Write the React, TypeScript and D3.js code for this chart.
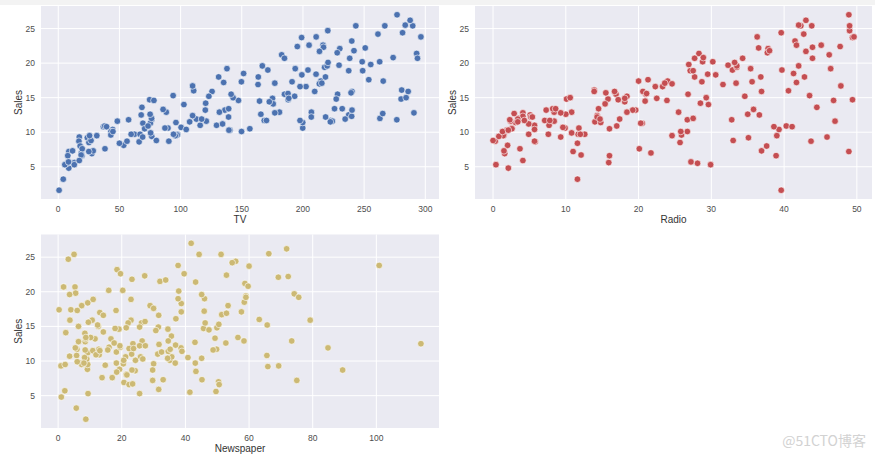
import React, { useEffect, useRef } from "react";
import * as d3 from "d3";

// Advertising data (TV, Radio, Newspaper spend vs Sales), 200 markets
const tv = [
  230.1, 44.5, 17.2, 151.5, 180.8, 8.7, 57.5, 120.2, 8.6, 199.8, 66.1, 214.7, 23.8, 97.5, 204.1, 195.4, 67.8, 281.4, 69.2, 147.3,
  218.4, 237.4, 13.2, 228.3, 62.3, 262.9, 142.9, 240.1, 248.8, 70.6, 292.9, 112.9, 97.2, 265.6, 95.7, 290.7, 266.9, 74.7, 43.1, 228,
  202.5, 177, 293.6, 206.9, 25.1, 175.1, 89.7, 239.9, 227.2, 66.9, 199.8, 100.4, 216.4, 182.6, 262.7, 198.9, 7.3, 136.2, 210.8, 210.7,
  53.5, 261.3, 239.3, 102.7, 131.1, 69, 31.5, 139.3, 237.4, 216.8, 199.1, 109.8, 26.8, 129.4, 213.4, 16.9, 27.5, 120.5, 5.4, 116,
  76.4, 239.8, 75.3, 68.4, 213.5, 193.2, 76.3, 110.7, 88.3, 109.8, 134.3, 28.6, 217.7, 250.9, 107.4, 163.3, 197.6, 184.9, 289.7, 135.2,
  222.4, 296.4, 280.2, 187.9, 238.2, 137.9, 25, 90.4, 13.1, 255.4, 225.8, 241.7, 175.7, 209.6, 78.2, 75.1, 139.2, 76.4, 125.7, 19.4,
  141.3, 18.8, 224, 123.1, 229.5, 87.2, 7.8, 80.2, 220.3, 59.6, 0.7, 265.2, 8.4, 219.8, 36.9, 48.3, 25.6, 273.7, 43, 184.9,
  73.4, 193.7, 220.5, 104.6, 96.2, 140.3, 240.1, 243.2, 38, 44.7, 280.7, 121, 197.6, 171.3, 187.8, 4.1, 93.9, 149.8, 11.7, 131.7,
  172.5, 85.7, 188.4, 163.5, 117.2, 234.5, 17.9, 206.8, 215.4, 284.3, 50, 164.5, 19.6, 168.4, 222.4, 276.9, 248.4, 170.2, 276.7, 165.6,
  156.6, 218.5, 56.2, 287.6, 253.8, 205, 139.5, 191.1, 286, 18.7, 39.5, 75.5, 17.2, 166.8, 149.7, 38.2, 94.2, 177, 283.6, 232.1,
];
const radio = [
  37.8, 39.3, 45.9, 41.3, 10.8, 48.9, 32.8, 19.6, 2.1, 2.6, 5.8, 24, 35.1, 7.6, 32.9, 47.7, 36.6, 39.6, 20.5, 23.9,
  27.7, 5.1, 15.9, 16.9, 12.6, 3.5, 29.3, 16.7, 27.1, 16, 28.3, 17.4, 1.5, 20, 1.4, 4.1, 43.8, 49.4, 26.7, 37.7,
  22.3, 33.4, 27.7, 8.4, 25.7, 22.5, 9.9, 41.5, 15.8, 11.7, 3.1, 9.6, 41.7, 46.2, 28.8, 49.4, 28.1, 19.2, 49.6, 29.5,
  2, 42.7, 15.5, 29.6, 42.8, 9.3, 24.6, 14.5, 27.5, 43.9, 30.6, 14.3, 33, 5.7, 24.6, 43.7, 1.6, 28.5, 29.9, 7.7,
  26.7, 4.1, 20.3, 44.5, 43, 18.4, 27.5, 40.6, 25.5, 47.8, 4.9, 1.5, 33.5, 36.5, 14, 31.6, 3.5, 21, 42.3, 41.7,
  4.3, 36.3, 10.1, 17.2, 34.3, 46.4, 11, 0.3, 0.4, 26.9, 8.2, 38, 15.4, 20.6, 46.8, 35, 14.3, 0.8, 36.9, 16,
  26.8, 21.7, 2.4, 34.6, 32.3, 11.8, 38.9, 0, 49, 12, 39.6, 2.9, 27.2, 33.5, 38.6, 47, 39, 28.9, 25.9, 43.9,
  17, 35.4, 33.2, 5.7, 14.8, 1.9, 7.3, 49, 40.3, 25.8, 13.9, 8.4, 23.3, 39.7, 21.1, 11.6, 43.5, 1.3, 36.9, 18.4,
  18.1, 35.8, 18.1, 36.8, 14.7, 3.4, 37.6, 5.2, 23.6, 10.6, 11.6, 20.9, 20.1, 7.1, 3.4, 48.9, 30.2, 7.8, 2.3, 10,
  2.6, 5.4, 5.7, 43, 21.3, 45.1, 2.1, 28.7, 13.9, 12.1, 41.1, 10.8, 4.1, 42, 35.6, 3.7, 4.9, 9.3, 42, 8.6,
];
const newspaper = [
  69.2, 45.1, 69.3, 58.5, 58.4, 75, 23.5, 11.6, 1, 21.2, 24.2, 4, 65.9, 7.2, 46, 52.9, 114, 55.8, 18.3, 19.1,
  53.4, 23.5, 49.6, 26.2, 18.3, 19.5, 12.6, 22.9, 22.9, 40.8, 43.2, 38.6, 30, 0.3, 7.4, 8.5, 5, 45.7, 35.1, 32,
  31.6, 38.7, 1.8, 26.4, 43.3, 31.5, 35.7, 18.5, 49.9, 36.8, 34.6, 3.6, 39.6, 58.7, 15.9, 60, 41.4, 16.6, 37.7, 9.3,
  21.4, 54.7, 27.3, 8.4, 28.9, 0.9, 2.2, 10.2, 11, 27.2, 38.7, 31.7, 19.3, 31.3, 13.1, 89.4, 20.7, 14.2, 9.4, 23.1,
  22.3, 36.9, 32.5, 35.6, 33.8, 65.7, 16, 63.2, 73.4, 51.4, 9.3, 33, 59, 72.3, 10.9, 52.9, 5.9, 22, 51.2, 45.9,
  49.8, 100.9, 21.4, 17.9, 5.3, 59, 29.7, 23.2, 25.6, 5.5, 56.5, 23.2, 2.4, 10.7, 34.5, 52.7, 25.6, 14.8, 79.2, 22.3,
  46.2, 50.4, 15.6, 12.4, 74.2, 25.9, 50.6, 9.2, 3.2, 43.1, 8.7, 43, 2.1, 45.1, 65.6, 8.5, 9.3, 59.7, 20.5, 1.7,
  12.9, 75.6, 37.9, 34.4, 38.9, 9, 8.7, 44.3, 11.9, 20.6, 37, 48.7, 14.2, 37.7, 9.5, 5.7, 50.5, 24.3, 45.2, 34.6,
  30.7, 49.3, 25.6, 7.4, 5.4, 84.8, 21.6, 19.4, 57.6, 6.4, 18.4, 47.4, 17, 12.8, 13.1, 41.8, 20.3, 35.2, 23.7, 17.6,
  8.3, 27.4, 29.7, 71.8, 30, 19.6, 26.6, 18.2, 3.7, 23.4, 5.8, 6, 31.6, 3.6, 6, 13.8, 8.1, 6.4, 66.2, 8.7,
];
const sales = [
  22.1, 10.4, 9.3, 18.5, 12.9, 7.2, 11.8, 13.2, 4.8, 10.6, 8.6, 17.4, 9.2, 9.7, 19, 22.4, 12.5, 24.4, 11.3, 14.6,
  18, 12.5, 5.6, 15.5, 9.7, 12, 15, 15.9, 18.9, 10.5, 21.4, 11.9, 9.6, 17.4, 9.5, 12.8, 25.4, 14.7, 10.1, 21.5,
  16.6, 17.1, 20.7, 12.9, 8.5, 14.9, 10.6, 23.2, 14.8, 9.7, 11.4, 10.7, 22.6, 21.2, 20.2, 23.7, 5.5, 13.2, 23.8, 18.4,
  8.1, 24.2, 15.7, 14, 18, 9.3, 9.5, 13.4, 18.9, 22.3, 18.3, 12.4, 8.8, 11, 17, 8.7, 6.9, 14.2, 5.3, 11,
  11.8, 12.3, 11.3, 13.6, 21.7, 15.2, 12, 16, 12.9, 16.7, 11.2, 7.3, 19.4, 22.2, 11.5, 16.9, 11.7, 15.5, 25.4, 17.2,
  11.7, 23.8, 14.8, 14.7, 20.7, 19.2, 7.2, 8.7, 5.3, 19.8, 13.4, 21.8, 14.1, 15.9, 14.6, 12.6, 12.2, 9.4, 15.9, 6.6,
  15.5, 7, 11.6, 15.2, 19.7, 10.6, 6.6, 8.8, 24.7, 9.7, 1.6, 12.7, 5.7, 19.6, 10.8, 11.6, 9.5, 20.8, 9.6, 20.7,
  10.9, 19.2, 20.1, 10.4, 11.4, 10.3, 13.2, 25.4, 10.9, 10.1, 16.1, 11.6, 16.6, 19, 15.6, 3.2, 15.3, 10.1, 7.3, 12.9,
  14.4, 13.3, 14.9, 18, 11.9, 11.9, 8, 12.2, 17.1, 15, 8.4, 14.5, 7.6, 11.7, 11.5, 27, 20.2, 11.7, 11.8, 12.6,
  10.5, 12.2, 8.7, 26.2, 17.6, 22.6, 10.3, 17.3, 15.9, 6.7, 10.8, 9.9, 5.9, 19.6, 17.3, 7.6, 9.7, 12.8, 25.5, 13.4,
];

const salesTicks = [5, 10, 15, 20, 25];
const tvTicks = [0, 50, 100, 150, 200, 250, 300];
const radioTicks = [0, 10, 20, 30, 40, 50];
const newspaperTicks = [0, 20, 40, 60, 80, 100];

const panels = [
  { label: "TV", xs: tv, ticks: tvTicks, color: "#4c72b0", box: [41, 6, 439, 199] },
  { label: "Radio", xs: radio, ticks: radioTicks, color: "#c44e52", box: [475, 6, 872, 199] },
  { label: "Newspaper", xs: newspaper, ticks: newspaperTicks, color: "#ccb974", box: [41, 234.5, 439, 428] },
];

const font = "'Liberation Sans', Arial, sans-serif";

// matplotlib-style 5% padding around the data range
function padded(vals: number[]): [number, number] {
  const [lo, hi] = d3.extent(vals) as [number, number];
  const m = (hi - lo) * 0.05;
  return [lo - m, hi + m];
}

export default function App() {
  const ref = useRef<SVGSVGElement>(null);

  useEffect(() => {
    const svg = d3.select(ref.current);
    svg.selectAll("*").remove();

    // faint grey strip at the top of the screenshot
    svg.append("rect").attr("x", 0).attr("y", 0).attr("width", 875).attr("height", 5).attr("fill", "#f3f3f3");

    const yDom = padded(sales);

    panels.forEach((p) => {
      const [x0, y0, x1, y1] = p.box;
      const x = d3.scaleLinear().domain(padded(p.xs)).range([x0, x1]);
      const y = d3.scaleLinear().domain(yDom).range([y1, y0]);
      const g = svg.append("g");

      g.append("rect")
        .attr("x", x0)
        .attr("y", y0)
        .attr("width", x1 - x0)
        .attr("height", y1 - y0)
        .attr("fill", "#eaeaf2");

      g.selectAll(".vgrid")
        .data(p.ticks)
        .join("line")
        .attr("x1", (d) => x(d))
        .attr("x2", (d) => x(d))
        .attr("y1", y0)
        .attr("y2", y1)
        .attr("stroke", "#fff")
        .attr("stroke-width", 1);

      g.selectAll(".hgrid")
        .data(salesTicks)
        .join("line")
        .attr("x1", x0)
        .attr("x2", x1)
        .attr("y1", (d) => y(d))
        .attr("y2", (d) => y(d))
        .attr("stroke", "#fff")
        .attr("stroke-width", 1);

      g.selectAll(".xt")
        .data(p.ticks)
        .join("text")
        .attr("x", (d) => x(d))
        .attr("y", y1 + 12.5)
        .attr("text-anchor", "middle")
        .attr("font-size", 8.5)
        .attr("font-family", font)
        .attr("fill", "#4d4d4d")
        .text((d) => d);

      g.selectAll(".yt")
        .data(salesTicks)
        .join("text")
        .attr("x", x0 - 6)
        .attr("y", (d) => y(d) + 3)
        .attr("text-anchor", "end")
        .attr("font-size", 8.5)
        .attr("font-family", font)
        .attr("fill", "#4d4d4d")
        .text((d) => d);

      g.append("text")
        .attr("x", (x0 + x1) / 2)
        .attr("y", y1 + 24)
        .attr("text-anchor", "middle")
        .attr("font-size", 10)
        .attr("font-family", font)
        .attr("fill", "#333")
        .text(p.label);

      g.append("text")
        .attr("transform", `translate(${x0 - 19},${(y0 + y1) / 2}) rotate(-90)`)
        .attr("text-anchor", "middle")
        .attr("font-size", 10)
        .attr("font-family", font)
        .attr("fill", "#333")
        .text("Sales");

      g.selectAll(".dot")
        .data(p.xs.map((v, i) => [v, sales[i]]))
        .join("circle")
        .attr("cx", (d) => x(d[0]))
        .attr("cy", (d) => y(d[1]))
        .attr("r", 3.3)
        .attr("fill", p.color)
        .attr("stroke", "#fff")
        .attr("stroke-width", 0.6);
    });

    svg.append("text")
      .attr("x", 866)
      .attr("y", 446)
      .attr("text-anchor", "end")
      .attr("font-size", 14)
      .attr("font-family", "'Noto Sans CJK SC', sans-serif")
      .attr("fill", "#d2d2d2")
      .text("@51CTO博客");
  }, []);

  return (
    <div style={{ position: "fixed", left: 0, top: 0 }}>
      <svg ref={ref} width={875} height={458} style={{ display: "block", background: "#fff" }} />
    </div>
  );
}
